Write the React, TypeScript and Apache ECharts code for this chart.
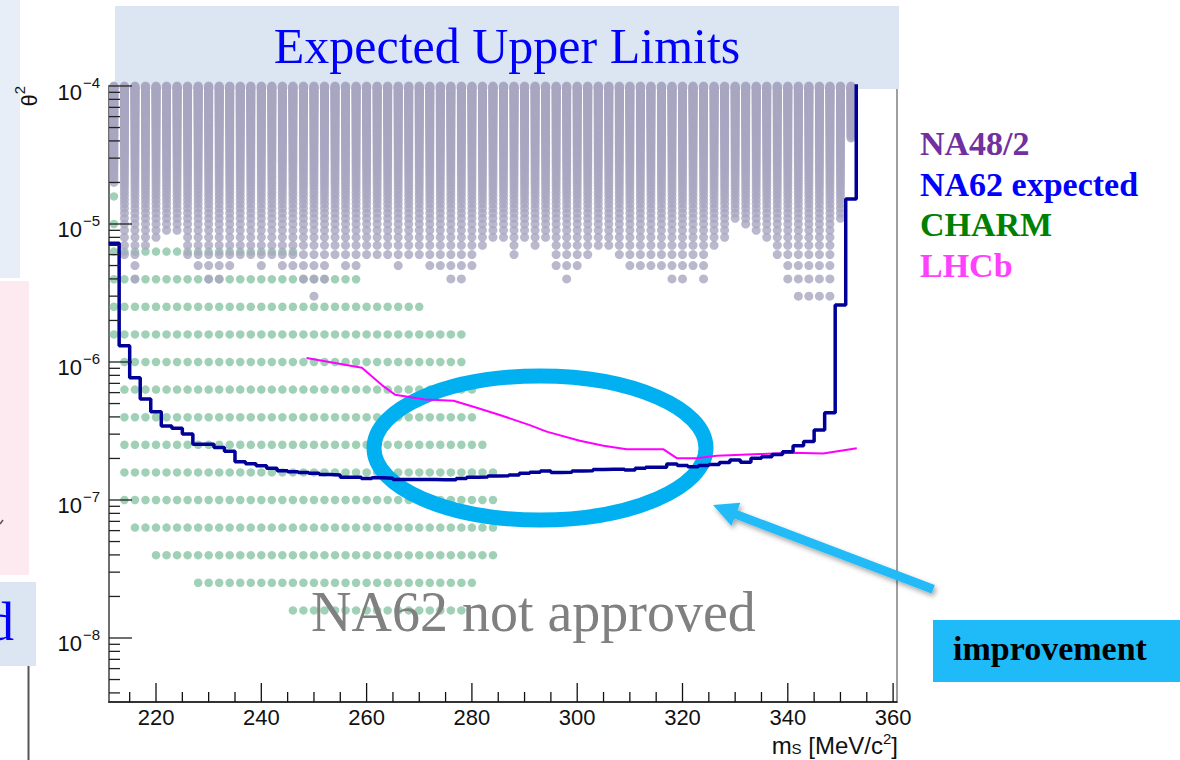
import React, { useEffect, useRef } from 'react';
import * as echarts from 'echarts';

const SERIF = "'Liberation Serif', 'Times New Roman', serif";
const SANS = "'Liberation Sans', Arial, Helvetica, sans-serif";

// Axis ranges
const X_MIN = 211.07;
const X_MAX = 360.74;
const Y_MIN = 3.437e-9;
const Y_MAX = 1e-4;

// ---- NA48/2 (grey grid): mass columns and lowest excluded row (units of 1e-6) ----
const na48Mass = [
  212, 214, 216, 218, 220, 222, 224, 226, 228, 230, 232, 234, 236, 238, 240, 242, 244, 246,
  248, 250, 252, 254, 256, 258, 260, 262, 264, 266, 268, 270, 272, 274, 276, 278, 280, 282,
  284, 286, 288, 290, 292, 294, 296, 298, 300, 302, 304, 306, 308, 310, 312, 314, 316, 318,
  320, 322, 324, 326, 328, 330, 332, 334, 336, 338, 340, 342, 344, 346, 348, 350, 352,
];
const na48LowestRow = [
  20, 6, 4, 7, 8, 9, 9, 6, 5, 4, 4, 5, 6, 6, 5, 6, 5, 5,
  4, 3, 4, 6, 5, 5, 6, 6, 6, 5, 6, 6, 5, 5, 4, 4, 5, 7,
  8, 8, 6, 8, 7, 8, 5, 4, 5, 6, 7, 7, 6, 5, 5, 5, 5, 4,
  4, 5, 4, 7, 8, 11, 10, 9, 8, 6, 4, 3, 3, 3, 3, 11, 42,
];
const NA48_TOP_ROW = 100;
const NA48_ROW_STEP = 1e-6;

// ---- CHARM (green grid): rows in log10(theta^2) with mass extent ----
const charmLog = [-4.8, -5.0, -5.2, -5.4, -5.6, -5.8, -6.0, -6.2, -6.4, -6.6, -6.8, -7.0, -7.2, -7.4, -7.6, -7.8];
const charmFrom = [212, 212, 212, 212, 212, 212, 214, 214, 214, 214, 214, 214, 216, 220, 228, 246];
const charmTo = [212, 212, 246, 258, 270, 278, 278, 280, 280, 282, 284, 284, 284, 284, 280, 278];

// ---- NA62 expected (step histogram): bin lower edges and values ----
const na62Edge = [
  211, 213, 215, 217, 219, 221, 223, 225, 227, 229, 231, 233, 235, 237, 239, 241, 243, 245,
  247, 249, 251, 253, 255, 257, 259, 261, 263, 265, 267, 269, 271, 273, 275, 277, 279, 281,
  283, 285, 287, 289, 291, 293, 295, 297, 299, 301, 303, 305, 307, 309, 311, 313, 315, 317,
  319, 321, 323, 325, 327, 329, 331, 333, 335, 337, 339, 341, 343, 345, 347, 349, 351, 353,
];
const na62Value = [
  7.24e-6, 1.31e-6, 7.69e-7, 5.39e-7, 4.36e-7, 3.44e-7, 3.31e-7, 3.01e-7, 2.53e-7, 2.53e-7,
  2.40e-7, 2.26e-7, 1.89e-7, 1.83e-7, 1.77e-7, 1.70e-7, 1.63e-7, 1.60e-7, 1.58e-7, 1.56e-7,
  1.53e-7, 1.52e-7, 1.46e-7, 1.46e-7, 1.43e-7, 1.45e-7, 1.44e-7, 1.41e-7, 1.41e-7, 1.41e-7,
  1.41e-7, 1.40e-7, 1.40e-7, 1.43e-7, 1.46e-7, 1.47e-7, 1.49e-7, 1.50e-7, 1.52e-7, 1.56e-7,
  1.59e-7, 1.62e-7, 1.58e-7, 1.59e-7, 1.62e-7, 1.63e-7, 1.66e-7, 1.67e-7, 1.67e-7, 1.65e-7,
  1.70e-7, 1.73e-7, 1.73e-7, 1.82e-7, 1.78e-7, 1.74e-7, 1.78e-7, 1.81e-7, 1.87e-7, 1.95e-7,
  1.88e-7, 2.01e-7, 2.06e-7, 2.14e-7, 2.24e-7, 2.47e-7, 2.65e-7, 3.21e-7, 4.29e-7, 2.59e-6,
  1.52e-5, 1e-3,
];

// ---- LHCb ----
const lhcbMass = [248.6, 259.1, 262.9, 265.4, 271.1, 276.5, 280.3, 285.3, 291.0, 294.2, 300.5, 305.0, 309.4, 316.4, 318.9, 322.7, 326.5, 334.7, 341.1, 346.7, 353.1];
const lhcbLimit = [1.07e-6, 9.1e-7, 6.8e-7, 5.8e-7, 5.35e-7, 5.24e-7, 4.74e-7, 4.13e-7, 3.49e-7, 3.13e-7, 2.69e-7, 2.47e-7, 2.33e-7, 2.33e-7, 2.01e-7, 2.01e-7, 2.09e-7, 2.15e-7, 2.20e-7, 2.17e-7, 2.37e-7];

// ---- tick positions ----
const xMajorTicks = [220, 240, 260, 280, 300, 320, 340, 360];
const xMinorTicks = [215, 225, 230, 235, 245, 250, 255, 265, 270, 275, 285, 290, 295, 305, 310, 315, 325, 330, 335, 345, 350, 355];
const yMajorTicks = [1e-8, 1e-7, 1e-6, 1e-5, 1e-4];
const yMinorMultipliers = [2, 3, 4, 5, 6, 7, 8, 9];
const yMinorDecades = [-9, -8, -7, -6, -5];

const legendItems = ['NA48/2', 'NA62 expected', 'CHARM', 'LHCb'];
const legendColors = ['#7030a0', '#0000ff', '#008000', '#ff40ff'];

export default function App() {
  const ref = useRef<HTMLDivElement>(null);

  useEffect(() => {
    if (!ref.current) return;
    const chart = echarts.init(ref.current, undefined, { renderer: 'svg' });

    const na48Points: number[][] = [];
    na48Mass.forEach((m, i) => {
      for (let k = na48LowestRow[i]; k <= NA48_TOP_ROW; k++) na48Points.push([m, k * NA48_ROW_STEP]);
    });
    const charmPoints: number[][] = [];
    charmLog.forEach((lg, i) => {
      for (let m = charmFrom[i]; m <= charmTo[i]; m += 2) charmPoints.push([m, Math.pow(10, lg)]);
    });
    const na62Data = na62Edge.map((e, i) => [e, na62Value[i]]);
    const lhcbData = lhcbMass.map((m, i) => [m, lhcbLimit[i]]);

    const xTickData = [
      ...xMajorTicks.map((v) => [v, Y_MIN, 19]),
      ...xMinorTicks.map((v) => [v, Y_MIN, 10]),
    ];
    const yTickData: number[][] = yMajorTicks.map((v) => [X_MIN, v, 23]);
    yMinorDecades.forEach((d) => {
      yMinorMultipliers.forEach((m) => {
        const v = m * Math.pow(10, d);
        if (v > Y_MIN && v < Y_MAX) yTickData.push([X_MIN, v, 11]);
      });
    });

    const legendGraphics = legendItems.map((t, i) => ({
      type: 'text',
      z: 20,
      style: {
        text: t,
        x: 920,
        y: 143.5 + i * 40.6,
        fill: legendColors[i],
        fontSize: 34,
        fontWeight: 'bold',
        fontFamily: SERIF,
        align: 'left',
        textAlign: 'left',
        verticalAlign: 'middle',
        textVerticalAlign: 'middle',
      },
    }));

    const option: any = {
      animation: false,
      backgroundColor: '#ffffff',
      grid: {
        left: 109,
        right: 283,
        top: 86,
        bottom: 58,
        show: true,
        borderColor: '#808080',
        borderWidth: 1.5,
        backgroundColor: 'transparent',
        outerBoundsMode: 'none',
        containLabel: false,
      },
      xAxis: {
        type: 'value',
        min: X_MIN,
        max: X_MAX,
        splitNumber: 8,
        axisLine: { show: true, lineStyle: { color: '#111', width: 1.5 } },
        axisTick: { show: false },
        splitLine: { show: false },
        axisLabel: {
          margin: 4,
          fontSize: 22,
          fontFamily: SANS,
          color: '#111',
          showMinLabel: false,
          formatter: (v: number) => {
            const r = Math.round(v / 20);
            return Math.abs(v / 20 - r) < 1e-6 ? String(r * 20) : '';
          },
        },
      },
      yAxis: {
        type: 'log',
        logBase: 10,
        min: Y_MIN,
        max: Y_MAX,
        axisLine: { show: true, lineStyle: { color: '#6e6e6e', width: 2 } },
        axisTick: { show: false },
        splitLine: { show: false },
        minorTick: { show: false },
        axisLabel: {
          margin: 9,
          showMaxLabel: true,
          formatter: (v: number) => {
            const e = Math.log10(v);
            const r = Math.round(e);
            if (Math.abs(e - r) > 1e-6) return '';
            return `{b|10}{s|${r < 0 ? '\u2212' : ''}${Math.abs(r)}}`;
          },
          rich: {
            b: { fontSize: 22, fontFamily: SANS, color: '#111', lineHeight: 22, padding: [6, 0, 0, 0], verticalAlign: 'top' },
            s: { fontSize: 15, fontFamily: SANS, color: '#111', lineHeight: 15, padding: [0, 0, 0, 1], verticalAlign: 'top' },
          },
        },
      },
      series: [
        {
          name: 'CHARM',
          type: 'scatter',
          data: charmPoints,
          symbol: 'circle',
          symbolSize: 8.5,
          itemStyle: { color: '#88c6a5' },
          silent: true,
          progressive: 0,
          z: 2,
        },
        {
          name: 'NA48/2',
          type: 'scatter',
          data: na48Points,
          symbol: 'circle',
          symbolSize: 9,
          itemStyle: { color: '#a9a6c1' },
          silent: true,
          progressive: 0,
          z: 3,
        },
        {
          name: 'LHCb',
          type: 'line',
          data: lhcbData,
          showSymbol: false,
          symbol: 'none',
          lineStyle: { color: '#ff00ff', width: 2 },
          silent: true,
          z: 4,
        },
        {
          name: 'NA62 expected',
          type: 'line',
          data: na62Data,
          step: 'end',
          showSymbol: false,
          symbol: 'none',
          clip: true,
          lineStyle: { color: '#000099', width: 3.5 },
          silent: true,
          z: 5,
        },
        {
          type: 'custom',
          data: xTickData,
          silent: true,
          clip: false,
          z: 6,
          renderItem: (params: any, api: any) => {
            const p = api.coord([api.value(0), api.value(1)]);
            const len = api.value(2);
            return {
              type: 'line',
              shape: { x1: p[0], y1: p[1], x2: p[0], y2: p[1] - len },
              style: { stroke: '#111', lineWidth: 1.3 },
            };
          },
        },
        {
          type: 'custom',
          data: yTickData,
          silent: true,
          clip: false,
          z: 6,
          renderItem: (params: any, api: any) => {
            const p = api.coord([api.value(0), api.value(1)]);
            const len = api.value(2);
            return {
              type: 'line',
              shape: { x1: p[0], y1: p[1], x2: p[0] + len, y2: p[1] },
              style: { stroke: '#222', lineWidth: 1.3 },
            };
          },
        },
      ],
      graphic: [
        // left-edge slide fragments
        { type: 'rect', z: 1, shape: { x: 0, y: 0, width: 20, height: 278 }, style: { fill: '#e8eef7' } },
        { type: 'rect', z: 1, shape: { x: 0, y: 281, width: 29, height: 294 }, style: { fill: '#fdeaf0' } },
        { type: 'rect', z: 1, shape: { x: 0, y: 582, width: 36, height: 84 }, style: { fill: '#dce6f2' } },
        {
          type: 'text', z: 20,
          style: { text: 'd', x: 14, y: 622, fill: '#0000ff', fontSize: 54, fontFamily: SERIF, align: 'right', textAlign: 'right', verticalAlign: 'middle', textVerticalAlign: 'middle' },
        },
        { type: 'line', z: 1, shape: { x1: 28.5, y1: 666, x2: 28.5, y2: 760 }, style: { stroke: '#555', lineWidth: 2 } },
        { type: 'line', z: 1, shape: { x1: 0, y1: 524, x2: 3, y2: 520 }, style: { stroke: '#555', lineWidth: 1.5 } },
        // title
        { type: 'rect', z: 15, shape: { x: 115, y: 6, width: 784, height: 83 }, style: { fill: '#dce6f2' } },
        {
          type: 'text', z: 20,
          style: { text: 'Expected Upper Limits', x: 507, y: 46, fill: '#0000ff', fontSize: 50, fontFamily: SERIF, align: 'center', textAlign: 'center', verticalAlign: 'middle', textVerticalAlign: 'middle' },
        },
        // y axis title (rotated)
        {
          type: 'text', z: 20, x: 23, y: 86, rotation: Math.PI / 2,
          style: {
            text: '{t|\u03b8}{s|2}', x: 0, y: 0, align: 'right', textAlign: 'right', verticalAlign: 'middle', textVerticalAlign: 'middle',
            rich: {
              t: { fontSize: 22, fontFamily: SANS, fill: '#111', color: '#111', lineHeight: 22, padding: [6, 0, 0, 0], verticalAlign: 'top' },
              s: { fontSize: 15, fontFamily: SANS, fill: '#111', color: '#111', lineHeight: 15, verticalAlign: 'top' },
            },
          },
        },
        // x axis title
        {
          type: 'text', z: 20,
          style: {
            text: '{b|m}{sub|S}{b| [MeV/c}{sup|2}{b|]}', x: 898, y: 743, align: 'right', textAlign: 'right', verticalAlign: 'middle', textVerticalAlign: 'middle',
            rich: {
              b: { fontSize: 24, fontFamily: SANS, fill: '#111', color: '#111', lineHeight: 24, padding: [2, 0, 0, 0], verticalAlign: 'top' },
              sup: { fontSize: 15, fontFamily: SANS, fill: '#111', color: '#111', lineHeight: 15, padding: [0, 0, 0, 0], verticalAlign: 'top' },
              sub: { fontSize: 15, fontFamily: SANS, fill: '#111', color: '#111', lineHeight: 15, padding: [10, 0, 0, 0], verticalAlign: 'top' },
            },
          },
        },
        // legend text
        ...legendGraphics,
        // annotation: NA62 not approved
        {
          type: 'text', z: 20,
          style: { text: 'NA62 not approved', x: 311, y: 612, fill: '#808080', fontSize: 56, fontFamily: SERIF, align: 'left', textAlign: 'left', verticalAlign: 'middle', textVerticalAlign: 'middle' },
        },
        // ellipse highlight
        {
          type: 'ellipse', z: 18,
          shape: { cx: 540, cy: 448, rx: 166, ry: 72 },
          style: { fill: 'none', stroke: '#00b0f0', lineWidth: 15 },
        },
        // arrow
        {
          type: 'polygon', z: 18,
          shape: {
            points: [
              [713, 505], [740.3, 502.7], [737.5, 510.2], [934.8, 585.1],
              [931.6, 593.5], [734.3, 518.6], [731.5, 526.1],
            ],
          },
          style: { fill: '#22bbf8', shadowBlur: 5, shadowColor: 'rgba(0,0,0,0.35)', shadowOffsetX: 2, shadowOffsetY: 3 },
        },
        // improvement box
        { type: 'rect', z: 18, shape: { x: 933, y: 620, width: 247, height: 62 }, style: { fill: '#1fbbf9' } },
        {
          type: 'text', z: 20,
          style: { text: 'improvement', x: 953, y: 648, fill: '#000000', fontSize: 34, fontWeight: 'bold', fontFamily: SERIF, align: 'left', textAlign: 'left', verticalAlign: 'middle', textVerticalAlign: 'middle' },
        },
      ],
    };

    chart.setOption(option);
    return () => chart.dispose();
  }, []);

  return (
    <div
      ref={ref}
      style={{ position: 'absolute', left: 0, top: 0, width: 1180, height: 760, background: '#ffffff' }}
    />
  );
}
